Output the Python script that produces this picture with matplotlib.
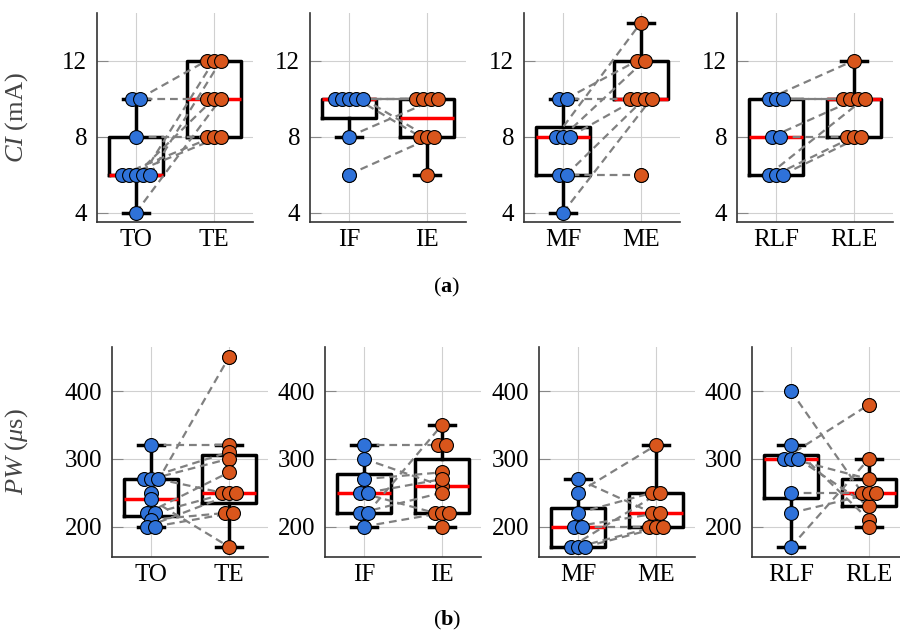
import numpy as np
import matplotlib.pyplot as plt

plt.rcParams.update({
    'font.family': 'serif',
    'font.serif': ['Liberation Serif', 'DejaVu Serif'],
    'mathtext.fontset': 'custom',
    'mathtext.rm': 'Liberation Serif',
    'mathtext.it': 'Liberation Serif:italic',
    'mathtext.bf': 'Liberation Serif:bold',
})

# (a) current intensity CI (mA), one entry per subject (None = missing)
ci_to = [10, 10, 8, 6, 6, 6, 6, 6, 4]
ci_te = [10, 12, 8, 8, 8, 10, 12, 12, 10]
ci_if = [10, 10, 10, 10, 10, 8, 6, None]
ci_ie = [10, 10, 10, 8, 8, 10, 8, 6]
ci_mf = [10, 10, 8, 8, 8, 6, 6, 4]
ci_me = [10, 12, 14, 12, 10, 6, 10, 10]
ci_rlf = [10, 10, 10, 8, 8, 6, 6, 6]
ci_rle = [12, 10, 10, 10, 8, 10, 8, 8]

# (b) pulse width PW (us)
pw_to = [320, 270, 270, 270, 250, 240, 220, 220, 210, 200, 200]
pw_te = [320, 310, 300, 250, 450, 170, 280, 250, 220, 250, 220]
pw_if = [320, 300, 270, 250, 250, 220, 220, 200, None, None, None]
pw_ie = [320, 260, 280, 220, 270, 250, 350, 220, 320, 200, 220]
pw_mf = [270, 250, 220, 200, 200, 170, 170, 170]
pw_me = [220, 320, 250, 220, 200, 250, 200, 200]
pw_rlf = [400, 320, 300, 300, 300, 250, 220, 170, None]
pw_rle = [250, 210, 380, 270, 230, 250, 250, 300, 200]

pair_names = [("TO", "TE"), ("IF", "IE"), ("MF", "ME"), ("RLF", "RLE")]
ci_ticks = [4, 8, 12]
pw_ticks = [200, 300, 400]

BLUE = '#2f72d9'
ORANGE = '#d9561c'


def spread(vals, step=0.09):
    """spread points that share the same value sideways"""
    offs = np.zeros(len(vals))
    for v in set(x for x in vals if x is not None):
        idx = [i for i, x in enumerate(vals) if x == v]
        m = len(idx)
        for k, i in enumerate(idx):
            offs[i] = (k - (m - 1) / 2) * step
    return offs


def draw_pair(ax, left, right, names, ylim, yticks):
    lv = np.array([np.nan if x is None else x for x in left], dtype=float)
    rv = np.array([np.nan if x is None else x for x in right], dtype=float)

    box_kw = dict(color='black', linewidth=2.5)
    ax.boxplot([lv[~np.isnan(lv)], rv[~np.isnan(rv)]], positions=[1, 2],
               widths=0.7, capwidths=0.33,
               boxprops=box_kw, whiskerprops=box_kw, capprops=box_kw,
               medianprops=dict(color='red', linewidth=2.5),
               flierprops=dict(marker='o', markerfacecolor='none',
                               markeredgecolor='black', markersize=9.5,
                               markeredgewidth=0.8))

    xl = 1 + spread(left)
    xr = 2 + spread(right)
    for a, b, ya, yb in zip(xl, xr, lv, rv):
        if np.isnan(ya) or np.isnan(yb):
            continue
        ax.plot([a, b], [ya, yb], linestyle=(0, (3.5, 2.2)), color='#808080',
                linewidth=1.6, zorder=3)
    ax.scatter(xl, lv, s=100, color=BLUE, edgecolors='black',
               linewidths=0.8, zorder=4)
    ax.scatter(xr, rv, s=100, color=ORANGE, edgecolors='black',
               linewidths=0.8, zorder=4)

    ax.set_xlim(0.5, 2.5)
    ax.set_ylim(*ylim)
    ax.set_xticks([1, 2], names)
    ax.set_yticks(yticks)
    ax.grid(True, color='#d0d0d0', linewidth=0.8)
    ax.set_axisbelow(True)
    for s in ['top', 'right']:
        ax.spines[s].set_visible(False)
    for s in ['left', 'bottom']:
        ax.spines[s].set_color('#333333')
        ax.spines[s].set_linewidth(1.2)
    ax.tick_params(axis='y', direction='in', length=8, color='#888888',
                   labelsize=18, pad=7)
    ax.tick_params(axis='x', length=0, labelsize=18, pad=5)


fig = plt.figure(figsize=(9, 6.35), dpi=100)

ci_data = [(ci_to, ci_te), (ci_if, ci_ie), (ci_mf, ci_me), (ci_rlf, ci_rle)]
pw_data = [(pw_to, pw_te), (pw_if, pw_ie), (pw_mf, pw_me), (pw_rlf, pw_rle)]

W = 156 / 900
top_lefts = [97, 310, 524, 737]
bot_lefts = [112, 325, 539, 752]

for i in range(4):
    ax = fig.add_axes([top_lefts[i] / 900, 1 - 222 / 635, W, 209 / 635])
    draw_pair(ax, ci_data[i][0], ci_data[i][1], pair_names[i],
              (3.5, 14.5), ci_ticks)
    if i == 0:
        ax.set_ylabel(r'$CI$ (mA)', fontsize=19, color='#444444')
        ax.yaxis.set_label_coords(-0.43, 0.5)

for i in range(4):
    ax = fig.add_axes([bot_lefts[i] / 900, 1 - 557 / 635, W, 210 / 635])
    draw_pair(ax, pw_data[i][0], pw_data[i][1], pair_names[i],
              (155, 465), pw_ticks)
    if i == 0:
        ax.set_ylabel(r'$PW$ ($\mu$s)', fontsize=19, color='#444444')
        ax.yaxis.set_label_coords(-0.526, 0.5)

fig.text(447 / 900, 1 - 287 / 635, r'($\mathbf{a}$)', ha='center',
         va='center', fontsize=16)
fig.text(447 / 900, 1 - 620 / 635, r'($\mathbf{b}$)', ha='center',
         va='center', fontsize=16)

fig.savefig('out.png', dpi=100)
